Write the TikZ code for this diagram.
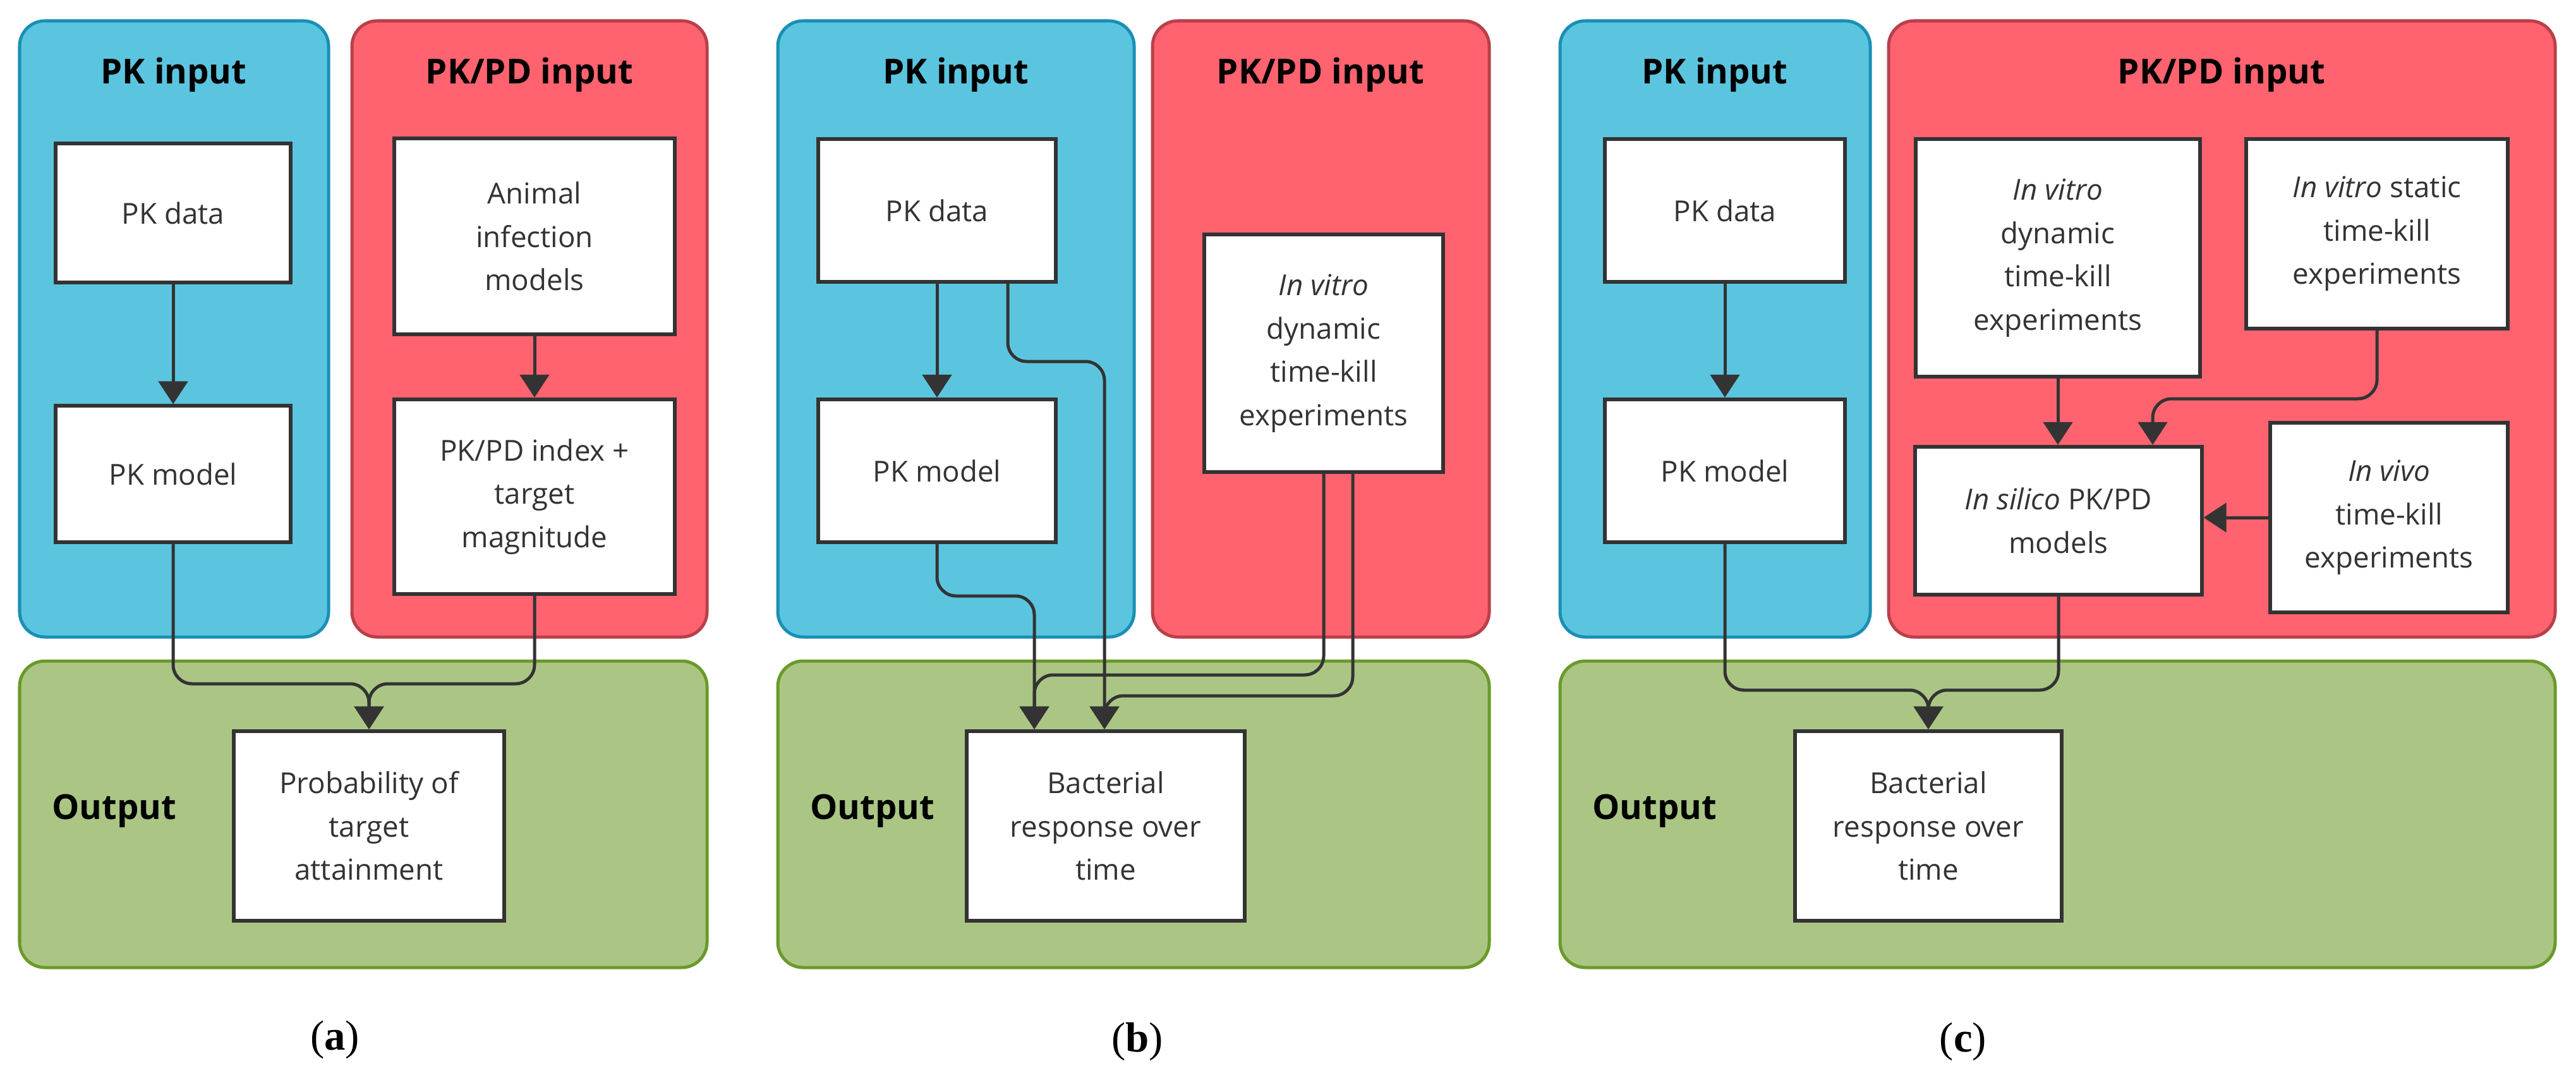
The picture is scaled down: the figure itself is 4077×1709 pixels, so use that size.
\documentclass[tikz,border=0pt]{standalone}
\usepackage{fontspec}
\setmainfont{Open Sans}
\newfontfamily\capfont{Liberation Serif}
\usetikzlibrary{arrows.meta,calc}
\definecolor{pkblue}{HTML}{5BC5DF}
\definecolor{pkblueb}{HTML}{1A8FB5}
\definecolor{pdred}{HTML}{FF636F}
\definecolor{pdredb}{HTML}{B8404A}
\definecolor{outg}{HTML}{ABC684}
\definecolor{outgb}{HTML}{6A9A2A}
\definecolor{ink}{HTML}{333333}
\begin{document}
\begin{tikzpicture}[x=0.01cm,y=-0.01cm,
  cont/.style={rounded corners=0.4cm,line width=0.05cm},
  blue/.style={cont,fill=pkblue,draw=pkblueb},
  red/.style={cont,fill=pdred,draw=pdredb},
  green/.style={cont,fill=outg,draw=outgb},
  box/.style={draw=ink,fill=white,line width=0.06cm,align=center,inner sep=0pt,
    font=\fontsize{13}{19.5}\selectfont,text=ink},
  ttl/.style={font=\fontsize{15.5}{18}\selectfont\bfseries,text=black},
  outl/.style={font=\fontsize{15.5}{18}\selectfont\bfseries,text=black,anchor=west},
  figcap/.style={font=\fontsize{19}{22}\selectfont\capfont},
  conn/.style={draw=ink,line width=0.05cm,rounded corners=0.3cm,-{Triangle[width=0.46cm,length=0.36cm]}}]
\useasboundingbox (0,0) rectangle (4077,1709);
% containers
\draw[blue] (31,33) rectangle (520,1008);
\draw[red] (557,33) rectangle (1119,1008);
\draw[green] (31,1046) rectangle (1119,1531);
\draw[blue] (1231,33) rectangle (1795,1008);
\draw[red] (1824,33) rectangle (2357,1008);
\draw[green] (1231,1046) rectangle (2357,1531);
\draw[blue] (2469,33) rectangle (2960,1008);
\draw[red] (2989,33) rectangle (4044,1008);
\draw[green] (2469,1046) rectangle (4044,1531);
% titles
\node[ttl] (ta1) at (275,118) {PK input};
\node[ttl] (ta2) at (838,118) {PK/PD input};
\node[outl] (oa) at (70,1283) {Output};
\node[ttl] (tb1) at (1513,118) {PK input};
\node[ttl] (tb2) at (2090,118) {PK/PD input};
\node[outl] (ob) at (1270,1283) {Output};
\node[ttl] (tc1) at (2714,118) {PK input};
\node[ttl] (tc2) at (3516,118) {PK/PD input};
\node[outl] (oc) at (2508,1283) {Output};
% panel a
\node[box,minimum width=3.72cm,minimum height=2.2cm] (pkda) at (274,337) {PK data};
\node[box,minimum width=3.72cm,minimum height=2.15cm] (pkma) at (274,750) {PK model};
\node[box,minimum width=4.43cm,minimum height=3.09cm] (anim) at (846,374) {Animal\\infection\\models};
\node[box,minimum width=4.43cm,minimum height=3.08cm] (idx) at (846,786) {PK/PD index +\\target\\magnitude};
\node[box,minimum width=4.28cm,minimum height=3.0cm] (prob) at (584,1307) {Probability of\\target\\attainment};
% panel b
\node[box,minimum width=3.76cm,minimum height=2.26cm] (pkdb) at (1483,333) {PK data};
\node[box,minimum width=3.76cm,minimum height=2.26cm] (pkmb) at (1483,745) {PK model};
\node[box,minimum width=3.78cm,minimum height=3.76cm] (ivb) at (2095,559) {\textit{In vitro}\\dynamic\\time-kill\\experiments};
\node[box,minimum width=4.39cm,minimum height=3.0cm] (bactb) at (1750,1307) {Bacterial\\response over\\time};
% panel c
\node[box,minimum width=3.8cm,minimum height=2.26cm] (pkdc) at (2730,333) {PK data};
\node[box,minimum width=3.8cm,minimum height=2.26cm] (pkmc) at (2730,745) {PK model};
\node[box,minimum width=4.5cm,minimum height=3.76cm] (dyn) at (3257,408) {\textit{In vitro}\\dynamic\\time-kill\\experiments};
\node[box,minimum width=4.13cm,minimum height=3.0cm] (stat) at (3762,370) {\textit{In vitro} static\\time-kill\\experiments};
\node[box,minimum width=4.53cm,minimum height=2.34cm] (sil) at (3258,824) {\textit{In silico} PK/PD\\models};
\node[box,minimum width=3.75cm,minimum height=2.99cm] (viv) at (3781,819) {\textit{In vivo}\\time-kill\\experiments};
\node[box,minimum width=4.21cm,minimum height=3.0cm] (bactc) at (3052,1307) {Bacterial\\response over\\time};
% captions
\node[figcap] (ca) at (530,1645) {(\textbf{a})};
\node[figcap] (cb) at (1800,1648) {(\textbf{b})};
\node[figcap] (cc) at (3107,1648) {(\textbf{c})};
% connectors a
\coordinate (ja) at (584,1082);
\draw[conn] (pkda) -- (pkma);
\draw[conn] (anim) -- (idx);
\draw[conn] (pkma.south) |- (ja) -- (prob.north);
\draw[conn] (idx.south) |- (ja) -- (prob.north);
% connectors b
\coordinate (b1) at (1637,943);
\coordinate (b2) at (1748,572);
\coordinate (b3) at (1637,1068);
\coordinate (b4) at (1748,1101);
\draw[conn] (pkdb) -- (pkmb);
\draw[conn] (pkmb.south) |- (b1) -- (b1 |- bactb.north);
\draw[conn] ($(pkdb.south)+(112,0)$) |- (b2) -- (b2 |- bactb.north);
\draw[conn] (ivb.south) |- (b3) -- (b3 |- bactb.north);
\draw[conn] ($(ivb.south)+(46,0)$) |- (b4) -- (b4 |- bactb.north);
% connectors c
\coordinate (jc) at (3052,1092);
\coordinate (c1) at (3407,631);
\draw[conn] (pkdc) -- (pkmc);
\draw[conn] (pkmc.south) |- (jc) -- (bactc.north);
\draw[conn] (sil.south) |- (jc) -- (bactc.north);
\draw[conn] (dyn.south) -- (dyn.south |- sil.north);
\draw[conn] (stat.south) |- (c1) -- (c1 |- sil.north);
\draw[conn] (viv.west) -- (viv.west -| sil.east);
\end{tikzpicture}
\end{document}
